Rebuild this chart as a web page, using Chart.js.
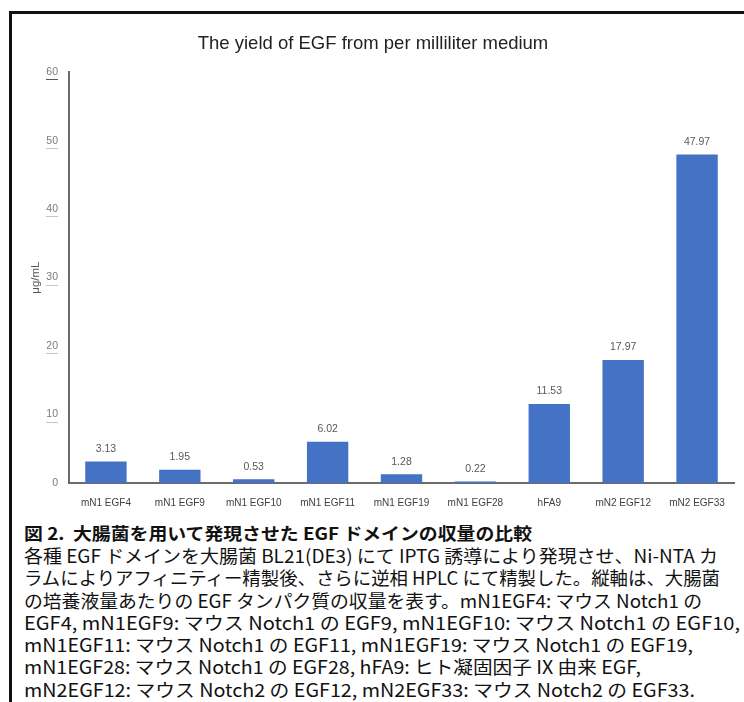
<!DOCTYPE html>
<html>
<head>
<meta charset="utf-8">
<script src="https://cdn.jsdelivr.net/npm/chart.js@4.4.1/dist/chart.umd.min.js"></script>
<style>
body { margin: 0; background: #fff; width: 744px; height: 702px; overflow: hidden; position: relative; }
#frame { position: absolute; left: 9px; top: 11px; width: 740px; height: 700px; border-left: 3px solid #111; border-top: 3px solid #111; }
#chartBox { position: absolute; left: 12px; top: 14px; width: 732px; height: 501px; }
#caption { position: absolute; left: 24px; top: 522px; font-family: "Noto Sans CJK JP", sans-serif; color: #111; }
.cap-head { font-weight: bold; font-size: 17px; line-height: 22px; white-space: nowrap; }
.cap-line { font-size: 18px; line-height: 22.3px; white-space: nowrap; }
#caption div { display: block; width: max-content; transform-origin: left center; }
</style>
</head>
<body>
<div id="frame"></div>
<div id="chartBox"><canvas id="yieldChart"></canvas></div>
<div id="caption">
  <div class="cap-head" data-end="532">図 2.&nbsp; 大腸菌を用いて発現させた EGF ドメインの収量の比較</div>
  <div class="cap-line" data-end="718">各種 EGF ドメインを大腸菌 BL21(DE3) にて IPTG 誘導により発現させ、Ni-NTA カ</div>
  <div class="cap-line" data-end="720">ラムによりアフィニティー精製後、さらに逆相 HPLC にて精製した。縦軸は、大腸菌</div>
  <div class="cap-line" data-end="702">の培養液量あたりの EGF タンパク質の収量を表す。mN1EGF4: マウス Notch1 の</div>
  <div class="cap-line" data-end="740">EGF4, mN1EGF9: マウス Notch1 の EGF9, mN1EGF10: マウス Notch1 の EGF10,</div>
  <div class="cap-line" data-end="693">mN1EGF11: マウス Notch1 の EGF11, mN1EGF19: マウス Notch1 の EGF19,</div>
  <div class="cap-line" data-end="641">mN1EGF28: マウス Notch1 の EGF28, hFA9: ヒト凝固因子 IX 由来 EGF,</div>
  <div class="cap-line" data-end="695">mN2EGF12: マウス Notch2 の EGF12, mN2EGF33: マウス Notch2 の EGF33.</div>
</div>
<script>
const domainNames = ['mN1 EGF4', 'mN1 EGF9', 'mN1 EGF10', 'mN1 EGF11', 'mN1 EGF19',
    'mN1 EGF28', 'hFA9', 'mN2 EGF12', 'mN2 EGF33'];
const yieldValues = [3.13, 1.95, 0.53, 6.02, 1.28, 0.22, 11.53, 17.97, 47.97];
const yTicks = [0, 10, 20, 30, 40, 50, 60];

// squeeze each caption line so it wraps where the printed figure does
document.querySelectorAll('#caption div').forEach(line => {
    const box = line.getBoundingClientRect();
    const target = Number(line.dataset.end) - box.left;
    line.style.transform = `scaleX(${target / box.width})`;
});

// value printed above each bar
const valueLabels = {
    id: 'valueLabels',
    afterDatasetsDraw(chart) {
        const ctx = chart.ctx;
        const meta = chart.getDatasetMeta(0);
        ctx.save();
        ctx.font = '10.5px "Liberation Sans"';
        ctx.fillStyle = '#595959';
        ctx.textAlign = 'center';
        ctx.textBaseline = 'middle';
        meta.data.forEach((bar, i) => {
            ctx.fillText(yieldValues[i].toFixed(2), bar.x, bar.y - 12.5);
        });
        ctx.restore();
    }
};

// faint underline under the y tick labels, as in the scanned figure
const tickUnderline = {
    id: 'tickUnderline',
    afterDraw(chart) {
        const ctx = chart.ctx;
        const y = chart.scales.y;
        ctx.save();
        ctx.lineWidth = 1;
        yTicks.forEach(v => {
            if (v === 0) return;
            ctx.strokeStyle = v === 60 ? '#555' : '#c4c4c4';
            const py = Math.round(y.getPixelForValue(v)) + 7.5;
            ctx.beginPath();
            ctx.moveTo(34, py);
            ctx.lineTo(46, py);
            ctx.stroke();
        });
        ctx.restore();
    }
};

new Chart(document.getElementById('yieldChart'), {
    type: 'bar',
    data: {
        labels: domainNames,
        datasets: [{
            data: yieldValues,
            backgroundColor: '#4472C4',
            categoryPercentage: 1,
            barPercentage: 0.56
        }]
    },
    options: {
        responsive: true,
        maintainAspectRatio: false,
        animation: false,
        layout: { padding: { left: 0, right: 10, top: 0, bottom: 0 } },
        plugins: {
            legend: { display: false },
            tooltip: { enabled: false },
            title: {
                display: true,
                text: 'The yield of EGF from per milliliter medium',
                color: '#222',
                font: { family: 'Liberation Sans', size: 18.5, weight: 'normal' },
                padding: { top: 19, bottom: 17 }
            }
        },
        scales: {
            x: {
                grid: { display: false, drawTicks: false },
                border: { display: true, color: '#6b6b6b', width: 2 },
                ticks: {
                    color: '#404040',
                    font: { family: 'Liberation Sans', size: 10 },
                    padding: 14,
                    maxRotation: 0,
                    autoSkip: false
                },
                afterFit(scale) { scale.height = 32; }
            },
            y: {
                min: 0,
                max: 60,
                grid: { display: false, drawTicks: false },
                border: { display: true, color: '#6b6b6b', width: 2 },
                ticks: {
                    stepSize: 10,
                    color: '#7a7a7a',
                    font: { family: 'Liberation Sans', size: 10.5 },
                    padding: 11
                },
                title: {
                    display: true,
                    text: 'μg/mL',
                    color: '#595959',
                    font: { family: 'Liberation Sans', size: 11.5 },
                    padding: { top: 17, bottom: 0 }
                },
                afterFit(scale) { scale.width = 57; }
            }
        }
    },
    plugins: [valueLabels, tickUnderline]
});
</script>
</body>
</html>
